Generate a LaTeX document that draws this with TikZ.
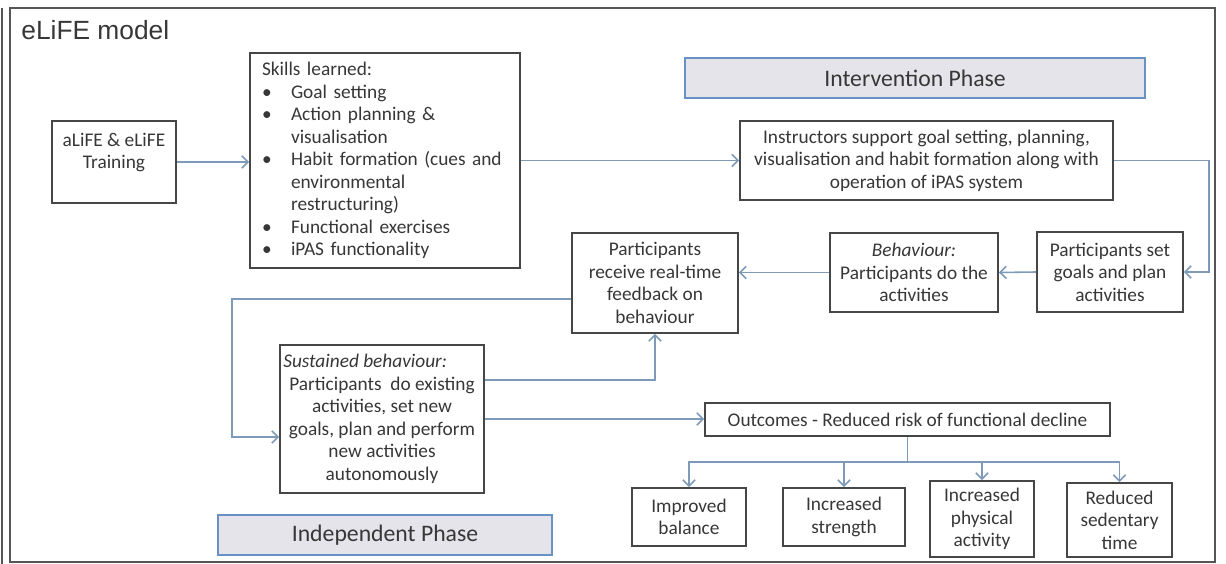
\documentclass[tikz,border=0pt]{standalone}
\usepackage{fontspec}
\setmainfont{Carlito}
\newfontfamily\headfont{Liberation Sans}
\usepackage{tikz}
\usetikzlibrary{arrows.meta, positioning, calc}
\definecolor{boxline}{RGB}{70,70,70}
\definecolor{textgray}{RGB}{55,55,55}
\definecolor{linkblue}{RGB}{125,155,185}
\definecolor{phasefill}{RGB}{228,228,234}
\definecolor{phaseline}{RGB}{105,145,195}
\definecolor{framegray}{RGB}{85,85,85}
\tikzset{
    box/.style={
        rectangle,
        draw=boxline,
        line width=1.1pt,
        text=textgray,
        align=center,
        inner sep=1pt,
        font=\fontsize{11}{12.8}\selectfont
    },
    phasebox/.style={
        rectangle,
        draw=phaseline,
        fill=phasefill,
        line width=1.2pt,
        text=textgray,
        font=\fontsize{13.5}{16}\selectfont
    },
    connection/.style={
        draw=linkblue,
        line width=0.9pt,
        -{Straight Barb[length=3.5pt,width=7pt]}
    },
    plainlink/.style={
        draw=linkblue,
        line width=0.9pt
    },
    heading/.style={
        anchor=west,
        inner sep=0pt,
        text=textgray,
        font=\headfont\fontsize{15}{18}\selectfont
    }
}
\newcommand{\bul}{\makebox[0.58cm][l]{\textbullet}}
\newcommand{\ind}{\hspace*{0.58cm}}

\begin{document}
\begin{tikzpicture}[x=0.02cm, y=-0.02cm]
\useasboundingbox (0,0) rectangle (1226,564);

% Frame
\draw[framegray, line width=0.8pt] (2,8) -- (2,564);
\draw[framegray, line width=1pt] (10,8) rectangle (1215,562);
\node[heading] (title) at (21,30) {eLiFE model};

% Training and skills
\node[box, minimum width=2.48cm, minimum height=1.64cm] (train) at (114,162) {aLiFE \& eLiFE\\Training\\\mbox{}};
\node[box, align=left, text width=4.92cm, minimum width=5.4cm, minimum height=4.3cm] (skills) at (385,160.5) {Skills learned:\\
\bul Goal setting\\
\bul Action planning \&\\
\ind visualisation\\
\bul Habit formation (cues and\\
\ind environmental\\
\ind restructuring)\\
\bul Functional exercises\\
\bul iPAS functionality};

% Intervention phase
\node[phasebox, minimum width=9.2cm, minimum height=0.8cm] (intervention) at (915,78) {Intervention Phase};
\node[box, minimum width=7.46cm, minimum height=1.58cm] (instr) at (926.5,160.5) {Instructors support goal setting, planning,\\visualisation and habit formation along with\\operation of iPAS system};
\node[box, minimum width=2.92cm, minimum height=1.6cm] (setgoals) at (1110,272) {Participants set\\goals and plan\\activities};
\node[box, minimum width=3.36cm, minimum height=1.58cm] (behav) at (914,272.5) {\textit{Behaviour:}\\Participants do the\\activities};
\node[box, minimum width=3.32cm, minimum height=2cm] (feedback) at (655,283) {Participants\\receive real-time\\feedback on\\behaviour};

% Independent phase
\node[box, minimum width=4.08cm, minimum height=2.96cm] (sustained) at (382,419) {\makebox[3.95cm][l]{\textit{Sustained behaviour:}}\\Participants\ \ do existing\\activities, set new\\goals, plan and perform\\new activities\\autonomously};
\node[phasebox, minimum width=6.68cm, minimum height=0.8cm] (independent) at (385,535) {Independent Phase};

% Outcomes
\node[box, minimum width=8.1cm, minimum height=0.66cm] (outcomes) at (907.5,419.5) {Outcomes - Reduced risk of functional decline};
\node[box, minimum width=2.28cm, minimum height=1.16cm] (improved) at (689,517) {Improved\\balance};
\node[box, minimum width=2.44cm, minimum height=1.16cm] (strength) at (844,517) {Increased\\strength};
\node[box, minimum width=2.08cm, minimum height=1.52cm] (physical) at (982,519) {Increased\\physical\\activity};
\node[box, minimum width=2.1cm, minimum height=1.48cm] (sedentary) at (1119.5,520) {Reduced\\sedentary\\time};

% Connectors
\draw[connection] (train.east) -- (train.east -| skills.west);
\draw[connection] (skills.east) -- (instr.west);
\draw[connection] (instr.east) -- ++(95,0) |- (setgoals.east);
\draw[connection] (setgoals.west) -- (behav.east);
\draw[connection] (behav.west) -- (behav.west -| feedback.east);
\draw[connection] ([yshift=-0.32cm]feedback.west) -- ++(-339,0) |- ([yshift=-0.36cm]sustained.west);
\draw[connection] ([yshift=0.78cm]sustained.east) -| (feedback.south);
\draw[connection] (sustained.east) -- (sustained.east -| outcomes.west);
\coordinate (split) at ([yshift=-0.5cm]outcomes.south);
\draw[plainlink] (outcomes.south) -- (split);
\foreach \res in {improved,strength,physical,sedentary} {
    \draw[connection] (split) -| (\res.north);
}

\end{tikzpicture}
\end{document}
